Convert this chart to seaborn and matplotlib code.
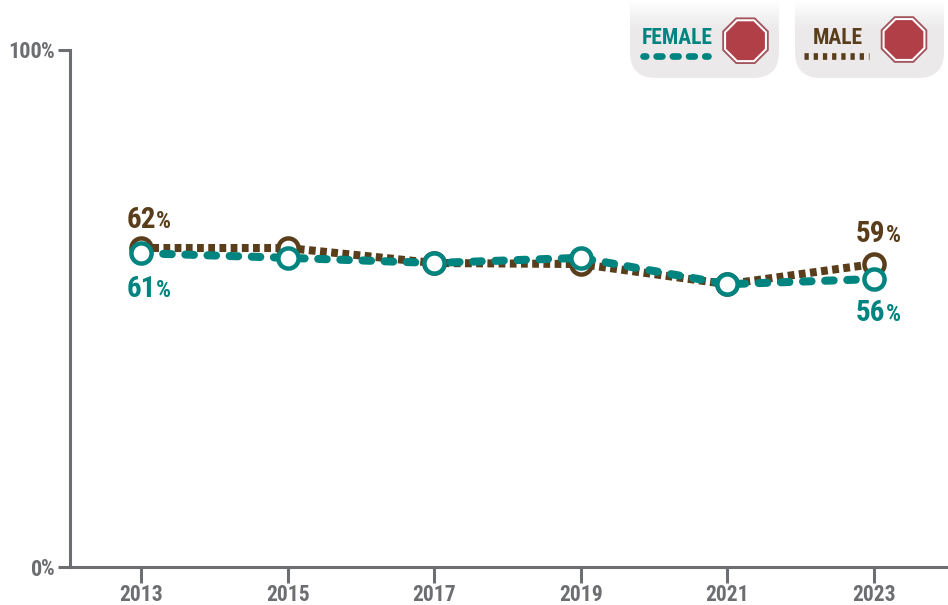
import numpy as np
import pandas as pd
import matplotlib.pyplot as plt
from matplotlib.patches import FancyBboxPatch, RegularPolygon
from matplotlib.colors import LinearSegmentedColormap
import seaborn as sns

years = [2013, 2015, 2017, 2019, 2021, 2023]
male = [61.7, 61.7, 58.8, 58.6, 54.7, 58.6]
female = [60.7, 59.8, 58.8, 59.8, 54.7, 55.7]
male_labels = {2013: '62', 2023: '59'}
female_labels = {2013: '61', 2023: '56'}
y_ticks = [0, 100]

teal = '#00847f'
brown = '#5a3e1b'
gray = '#6d6e71'
stop_red = '#b03f48'

sns.set_theme(style='white')
plt.rcParams['font.family'] = ['Roboto Condensed', 'DejaVu Sans']
plt.rcParams['font.weight'] = 'bold'

df = pd.DataFrame({'year': years, 'male': male, 'female': female})

fig = plt.figure(figsize=(9.48, 6.05), dpi=100)
ax = fig.add_axes([70 / 948, 38 / 605, 877 / 948, 517 / 605])
ax.patch.set_alpha(0)

# male first, female sits on top of it
sns.lineplot(data=df, x='year', y='male', ax=ax, color=brown, linewidth=5.8,
             linestyle=(0, (0.84, 0.55)), dash_capstyle='butt', marker='o', markersize=14.5,
             markerfacecolor='white', markeredgecolor=brown, markeredgewidth=3.2, clip_on=False)
sns.lineplot(data=df, x='year', y='female', ax=ax, color=teal, linewidth=5.8,
             linestyle=(0, (1.06, 1.69)), dash_capstyle='round', marker='o', markersize=14.5,
             markerfacecolor='white', markeredgecolor=teal, markeredgewidth=3.2, clip_on=False)

ax.set_xlim(2012.03, 2024)
ax.set_ylim(0, 100)
ax.set_xlabel('')
ax.set_ylabel('')
ax.set_xticks(years)
ax.set_yticks(y_ticks)
ax.tick_params(axis='x', length=11.5, width=2.2, color=gray, labelcolor=gray, labelsize=15.5, pad=0.5,
               bottom=True)
ax.tick_params(axis='y', length=8.6, width=2.2, color=gray, labelcolor=gray, labelsize=16, pad=11.5,
               left=True)
sns.despine(ax=ax)
for side in ['left', 'bottom']:
    ax.spines[side].set_color(gray)
    ax.spines[side].set_linewidth(2.2)

for t in y_ticks:
    ax.annotate('%', (0, t), xycoords=('axes fraction', 'data'), xytext=(-10.8, -5.5),
                textcoords='offset points', ha='right', va='baseline', color=gray,
                fontsize=15.5)


def value_label(year, value, text, color, dx, dy):
    ax.annotate(text, (year, value), xytext=(dx - 0.5, dy), textcoords='offset points',
                ha='right', va='baseline', color=color, fontsize=21)
    ax.annotate('%', (year, value), xytext=(dx, dy), textcoords='offset points',
                ha='left', va='baseline', color=color, fontsize=17)


value_label(2013, male[0], male_labels[2013], brown, 11, 14.4)
value_label(2023, male[-1], male_labels[2023], brown, 8.8, 15.8)
value_label(2013, female[0], female_labels[2013], teal, 11, -31.5)
value_label(2023, female[-1], female_labels[2023], teal, 8.8, -30)

# legend panels, drawn in pixel coordinates
leg = fig.add_axes([0, 0, 1, 1], zorder=-1)
leg.axis('off')
fade = LinearSegmentedColormap.from_list('fade', ['#ffffff', '#ebe9ea'])


def panel(x0, x1, label, label_x, color, cx, cy, line_x, linestyle, cap):
    box = FancyBboxPatch((x0 + 26, -40), x1 - x0 - 52, 92, boxstyle='round,pad=26,rounding_size=26',
                         linewidth=0, facecolor='none')
    leg.add_patch(box)
    im = leg.imshow(np.linspace(0, 1, 30).reshape(-1, 1), extent=(x0, x1, 30, 0), cmap=fade,
                    aspect='auto')
    im.set_clip_path(box)
    im2 = leg.imshow(np.ones((2, 2)), extent=(x0, x1, 80, 30), cmap=fade, vmin=0, vmax=1,
                     aspect='auto')
    im2.set_clip_path(box)
    leg.text(label_x, 38, label, color=color, fontsize=15.5, ha='center', va='center')
    leg.plot(line_x, [55.7, 55.7], color=color, linewidth=4.8, linestyle=linestyle,
             dash_capstyle=cap)
    for r, c in [(25.2, '#a2545c'), (23.2, 'white'), (21, stop_red)]:
        leg.add_patch(RegularPolygon((cx, cy), numVertices=8, radius=r, orientation=np.pi / 8,
                                     facecolor=c, edgecolor='none'))


panel(630, 779, 'FEMALE', 677, teal, 745.5, 40.7, [643.3, 707.7], (0.46, (0.87, 1.56)), 'round')
panel(795, 944, 'MALE', 838, brown, 904, 39.5, [804.3, 869.3], (0, (0.64, 0.74)), 'butt')
leg.set_xlim(0, 948)
leg.set_ylim(605, 0)

fig.savefig('out.png', dpi=100, facecolor='white')
